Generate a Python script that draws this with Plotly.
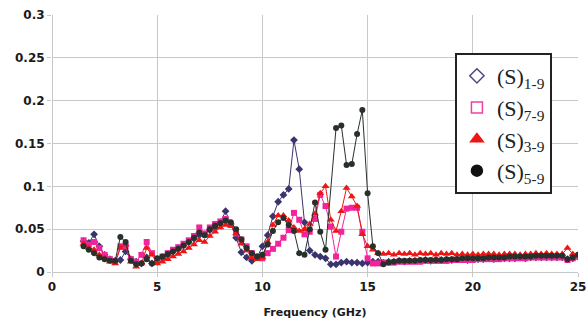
import plotly.graph_objects as go

# Frequency grid (GHz), 0.25 GHz step from 1.5 to 25
freq = [round(1.5 + 0.25 * i, 2) for i in range(95)]

# (S)1-9
s19 = [0.036, 0.034,
       0.044, 0.030, 0.020, 0.015,
       0.013, 0.014, 0.024, 0.015,
       0.012, 0.010, 0.017, 0.010,
       0.012, 0.016, 0.020, 0.024,
       0.027, 0.031, 0.035, 0.039,
       0.043, 0.044, 0.049, 0.052,
       0.058, 0.071, 0.056, 0.040,
       0.023, 0.017, 0.013, 0.017,
       0.030, 0.043, 0.065, 0.082,
       0.090, 0.097, 0.154, 0.120,
       0.058, 0.025, 0.020, 0.018,
       0.016, 0.009, 0.009, 0.011,
       0.012, 0.011, 0.011, 0.010,
       0.011, 0.012, 0.012, 0.011,
       0.012, 0.012, 0.013, 0.012,
       0.013, 0.013, 0.013, 0.014,
       0.013, 0.014, 0.014, 0.014,
       0.014, 0.015, 0.015, 0.014,
       0.015, 0.015, 0.015, 0.016,
       0.015, 0.016, 0.016, 0.016,
       0.016, 0.017, 0.016, 0.017,
       0.017, 0.017, 0.017, 0.017,
       0.017, 0.017, 0.015, 0.016,
       0.018]

# (S)7-9
s79 = [0.037, 0.032,
       0.035, 0.028, 0.020, 0.015,
       0.012, 0.030, 0.030, 0.015,
       0.012, 0.020, 0.035, 0.022,
       0.015, 0.018, 0.022, 0.026,
       0.029, 0.033, 0.037, 0.042,
       0.052, 0.045, 0.052, 0.056,
       0.059, 0.062, 0.055, 0.045,
       0.038, 0.030, 0.022, 0.018,
       0.016, 0.022, 0.027, 0.033,
       0.040, 0.049, 0.069, 0.061,
       0.044, 0.047, 0.062, 0.090,
       0.077, 0.053, 0.018, 0.047,
       0.074, 0.075, 0.075, 0.047,
       0.016, 0.010, 0.010, 0.011,
       0.011, 0.011, 0.012, 0.012,
       0.012, 0.012, 0.012, 0.013,
       0.013, 0.013, 0.013, 0.013,
       0.014, 0.014, 0.014, 0.014,
       0.014, 0.015, 0.015, 0.015,
       0.015, 0.015, 0.016, 0.016,
       0.016, 0.016, 0.016, 0.017,
       0.017, 0.017, 0.017, 0.017,
       0.017, 0.017, 0.014, 0.016,
       0.018]

# (S)3-9
s39 = [0.033, 0.028,
       0.026, 0.020, 0.016, 0.012,
       0.010, 0.028, 0.032, 0.012,
       0.006, 0.010, 0.028, 0.020,
       0.010, 0.012, 0.015, 0.018,
       0.021, 0.024, 0.028, 0.032,
       0.037, 0.035, 0.042, 0.047,
       0.052, 0.055, 0.054, 0.045,
       0.033, 0.025, 0.017, 0.015,
       0.017, 0.035, 0.055, 0.066,
       0.066, 0.060, 0.052, 0.048,
       0.050, 0.056, 0.068, 0.092,
       0.100, 0.061, 0.048, 0.071,
       0.098, 0.088, 0.077, 0.044,
       0.030, 0.026, 0.022, 0.021,
       0.022, 0.020, 0.022, 0.021,
       0.022, 0.020, 0.022, 0.021,
       0.022, 0.020, 0.022, 0.021,
       0.022, 0.020, 0.021, 0.020,
       0.021, 0.020, 0.021, 0.021,
       0.021, 0.020, 0.021, 0.021,
       0.021, 0.020, 0.021, 0.021,
       0.022, 0.021, 0.022, 0.021,
       0.021, 0.021, 0.028, 0.021,
       0.020]

# (S)5-9  (no sample at 13.25 GHz)
s59 = [0.030, 0.026,
       0.022, 0.017, 0.015, 0.013,
       0.013, 0.041, 0.035, 0.013,
       0.009, 0.010, 0.015, 0.010,
       0.016, 0.018, 0.021, 0.024,
       0.027, 0.031, 0.035, 0.040,
       0.046, 0.043, 0.050, 0.054,
       0.057, 0.060, 0.058, 0.050,
       0.038, 0.028, 0.022, 0.018,
       0.020, 0.032, 0.048, 0.058,
       0.063, 0.055, 0.048, 0.022,
       0.020, 0.050, 0.081, 0.047,
       0.026, None, 0.168, 0.171,
       0.125, 0.126, 0.161, 0.189,
       0.092, 0.030, 0.022, 0.009,
       0.011, 0.012, 0.013, 0.013,
       0.013, 0.013, 0.014, 0.014,
       0.014, 0.014, 0.014, 0.015,
       0.015, 0.015, 0.016, 0.016,
       0.016, 0.016, 0.016, 0.017,
       0.017, 0.017, 0.017, 0.018,
       0.018, 0.018, 0.018, 0.018,
       0.019, 0.019, 0.019, 0.019,
       0.019, 0.019, 0.015, 0.017,
       0.020]

names = ["(S)<sub>1-9</sub>", "(S)<sub>7-9</sub>", "(S)<sub>3-9</sub>", "(S)<sub>5-9</sub>"]
series = [s19, s79, s39, s59]
colors = ["#3a346e", "#f2249c", "#ee1515", "#27302a"]
legend_colors = ["#4a4a80", "#f2409f", "#ee1515", "#111111"]
symbols = ["diamond", "square", "triangle-up", "circle"]
legend_symbols = ["diamond-open", "square-open", "triangle-up", "circle"]
sizes = [6, 6, 7, 6]

fig = go.Figure()
for vals, c, sym, sz in zip(series, colors, symbols, sizes):
    fig.add_trace(go.Scatter(
        x=freq, y=vals, mode="lines+markers", connectgaps=True,
        line=dict(color=c, width=1),
        marker=dict(symbol=sym, size=sz, color=c),
        showlegend=False, hoverinfo="skip"))

for n, c, sym in zip(names, legend_colors, legend_symbols):
    fig.add_trace(go.Scatter(
        x=[None], y=[None], mode="markers", name=n,
        marker=dict(symbol=sym, size=11, color=c, line=dict(color=c, width=1.5))))

fig.update_layout(
    width=586, height=321,
    margin=dict(l=52, r=8, t=15, b=49, autoexpand=False),
    paper_bgcolor="white", plot_bgcolor="white",
    font=dict(family="DejaVu Sans", color="#1a1a1a"),
    legend=dict(
        x=0.766, y=0.852, xanchor="left", yanchor="top",
        bgcolor="white", bordercolor="#222", borderwidth=2,
        font=dict(family="Liberation Serif", size=22, color="#222"),
        itemsizing="trace", tracegroupgap=0),
    xaxis=dict(
        range=[0, 25], dtick=5, tick0=0, automargin=False,
        showgrid=True, gridcolor="#c8c8c8", gridwidth=1,
        zeroline=True, zerolinecolor="#c8c8c8", zerolinewidth=1,
        ticks="outside", ticklen=4, tickcolor="#c8c8c8",
        ticklabeloverflow="allow",
        tickfont=dict(family="DejaVu Sans", size=12, color="#1a1a1a", weight="bold"),
        title=dict(text="<b>Frequency (GHz)</b>", font=dict(family="DejaVu Sans", size=11, color="#1a1a1a"), standoff=14),
    ),
    yaxis=dict(
        range=[0, 0.3], dtick=0.05, tick0=0, automargin=False,
        showgrid=True, gridcolor="#c8c8c8", gridwidth=1,
        zeroline=True, zerolinecolor="#c8c8c8", zerolinewidth=1,
        ticks="outside", ticklen=4, tickcolor="#c8c8c8",
        tickfont=dict(family="DejaVu Sans", size=12, color="#1a1a1a", weight="bold"),
    ),
)

fig.write_html("out.html")
